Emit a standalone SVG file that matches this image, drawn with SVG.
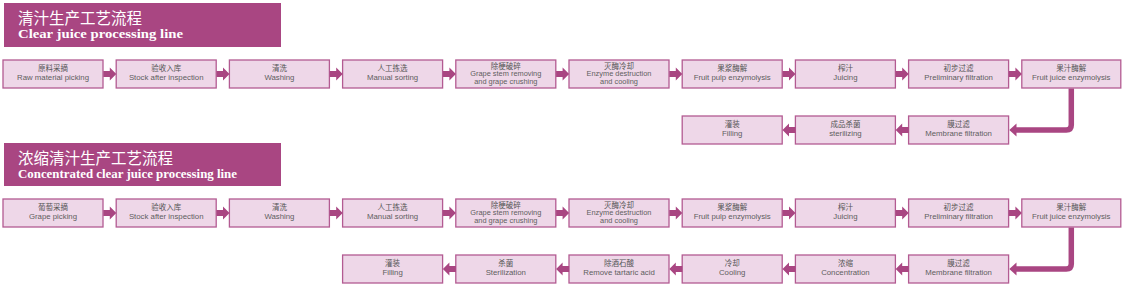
<svg xmlns="http://www.w3.org/2000/svg" xmlns:xlink="http://www.w3.org/1999/xlink" width="1124" height="302" viewBox="0 0 1124 302">
<style>
.bar{fill:#a94682}
.tcn{font-family:"Noto Sans CJK SC",sans-serif;font-size:15.5px;fill:#ffffff}
.ten{font-family:"Liberation Serif",serif;font-weight:bold;font-size:13.5px;fill:#ffffff}
.box{fill:#eed7e8;stroke:#b35b92;stroke-width:1.3}
.cn{font-family:"Liberation Sans","Noto Sans CJK SC",sans-serif;font-size:7.5px;fill:#555555;text-anchor:middle}
.en{font-family:"Liberation Sans",sans-serif;font-size:7.8px;fill:#5e5e5e;text-anchor:middle}
.en3{font-family:"Liberation Sans",sans-serif;font-size:7.4px;fill:#5e5e5e;text-anchor:middle}
.arr{fill:#a94682}
.bend{fill:none;stroke:#a94682;stroke-width:5.5}
</style>
<defs>
<path id="ar" d="M0,-3 H6.5 V-6.5 L13,0 L6.5,6.5 V3 H0 Z"/>
<path id="al" d="M13,-3 H6.5 V-6.5 L0,0 L6.5,6.5 V3 H13 Z"/>
</defs>
<rect width="1124" height="302" fill="#ffffff"/>

<g id="title1">
<rect class="bar" x="4" y="3" width="277" height="44"/>
<text class="tcn" x="18" y="23.5">清汁生产工艺流程</text>
<text class="ten" x="18" y="38" textLength="165" lengthAdjust="spacingAndGlyphs">Clear juice processing line</text>
</g>
<g id="title2">
<rect class="bar" x="4" y="143" width="277" height="43"/>
<text class="tcn" x="18" y="163.5">浓缩清汁生产工艺流程</text>
<text class="ten" x="18" y="177.5" textLength="219" lengthAdjust="spacingAndGlyphs">Concentrated clear juice processing line</text>
</g>

<!-- Section 1 row 1 -->
<g id="a1"><rect class="box" x="3" y="60" width="100" height="28"/><text class="cn" x="53" y="70.5">原料采摘</text><text class="en" x="53" y="80">Raw material picking</text></g>
<g id="a2"><rect class="box" x="116.2" y="60" width="100" height="28"/><text class="cn" x="166.2" y="70.5">验收入库</text><text class="en" x="166.2" y="80">Stock after inspection</text></g>
<g id="a3"><rect class="box" x="229.4" y="60" width="100" height="28"/><text class="cn" x="279.4" y="70.5">清洗</text><text class="en" x="279.4" y="80">Washing</text></g>
<g id="a4"><rect class="box" x="342.6" y="60" width="100" height="28"/><text class="cn" x="392.6" y="70.5">人工拣选</text><text class="en" x="392.6" y="80">Manual sorting</text></g>
<g id="a5"><rect class="box" x="455.8" y="60" width="100" height="28"/><text class="cn" x="505.8" y="68.8">除梗破碎</text><text class="en3" x="505.8" y="76.2">Grape stem removing</text><text class="en3" x="505.8" y="83.6">and grape crushing</text></g>
<g id="a6"><rect class="box" x="569" y="60" width="100" height="28"/><text class="cn" x="619" y="68.8">灭酶冷却</text><text class="en3" x="619" y="76.2">Enzyme destruction</text><text class="en3" x="619" y="83.6">and cooling</text></g>
<g id="a7"><rect class="box" x="682.2" y="60" width="100" height="28"/><text class="cn" x="732.2" y="70.5">果浆酶解</text><text class="en" x="732.2" y="80">Fruit pulp enzymolysis</text></g>
<g id="a8"><rect class="box" x="795.4" y="60" width="100" height="28"/><text class="cn" x="845.4" y="70.5">榨汁</text><text class="en" x="845.4" y="80">Juicing</text></g>
<g id="a9"><rect class="box" x="908.6" y="60" width="100" height="28"/><text class="cn" x="958.6" y="70.5">初步过滤</text><text class="en" x="958.6" y="80">Preliminary filtration</text></g>
<g id="a10"><rect class="box" x="1021.8" y="60" width="99" height="28"/><text class="cn" x="1071.3" y="70.5">果汁酶解</text><text class="en" x="1071.3" y="80">Fruit juice enzymolysis</text></g>
<!-- Section 1 row 2 -->
<g id="a11"><rect class="box" x="908.6" y="116" width="100" height="28"/><text class="cn" x="958.6" y="126.5">膜过滤</text><text class="en" x="958.6" y="136">Membrane filtration</text></g>
<g id="a12"><rect class="box" x="795.4" y="116" width="100" height="28"/><text class="cn" x="845.4" y="126.5">成品杀菌</text><text class="en" x="845.4" y="136">sterilizing</text></g>
<g id="a13"><rect class="box" x="682.2" y="116" width="100" height="28"/><text class="cn" x="732.2" y="126.5">灌装</text><text class="en" x="732.2" y="136">Filling</text></g>

<!-- Section 2 row 1 -->
<g id="b1"><rect class="box" x="3" y="199" width="100" height="28"/><text class="cn" x="53" y="209.5">葡萄采摘</text><text class="en" x="53" y="219">Grape picking</text></g>
<g id="b2"><rect class="box" x="116.2" y="199" width="100" height="28"/><text class="cn" x="166.2" y="209.5">验收入库</text><text class="en" x="166.2" y="219">Stock after inspection</text></g>
<g id="b3"><rect class="box" x="229.4" y="199" width="100" height="28"/><text class="cn" x="279.4" y="209.5">清洗</text><text class="en" x="279.4" y="219">Washing</text></g>
<g id="b4"><rect class="box" x="342.6" y="199" width="100" height="28"/><text class="cn" x="392.6" y="209.5">人工拣选</text><text class="en" x="392.6" y="219">Manual sorting</text></g>
<g id="b5"><rect class="box" x="455.8" y="199" width="100" height="28"/><text class="cn" x="505.8" y="207.8">除梗破碎</text><text class="en3" x="505.8" y="215.2">Grape stem removing</text><text class="en3" x="505.8" y="222.6">and grape crushing</text></g>
<g id="b6"><rect class="box" x="569" y="199" width="100" height="28"/><text class="cn" x="619" y="207.8">灭酶冷却</text><text class="en3" x="619" y="215.2">Enzyme destruction</text><text class="en3" x="619" y="222.6">and cooling</text></g>
<g id="b7"><rect class="box" x="682.2" y="199" width="100" height="28"/><text class="cn" x="732.2" y="209.5">果浆酶解</text><text class="en" x="732.2" y="219">Fruit pulp enzymolysis</text></g>
<g id="b8"><rect class="box" x="795.4" y="199" width="100" height="28"/><text class="cn" x="845.4" y="209.5">榨汁</text><text class="en" x="845.4" y="219">Juicing</text></g>
<g id="b9"><rect class="box" x="908.6" y="199" width="100" height="28"/><text class="cn" x="958.6" y="209.5">初步过滤</text><text class="en" x="958.6" y="219">Preliminary filtration</text></g>
<g id="b10"><rect class="box" x="1021.8" y="199" width="99" height="28"/><text class="cn" x="1071.3" y="209.5">果汁酶解</text><text class="en" x="1071.3" y="219">Fruit juice enzymolysis</text></g>
<!-- Section 2 row 2 -->
<g id="b11"><rect class="box" x="908.6" y="255" width="100" height="28"/><text class="cn" x="958.6" y="265.5">膜过滤</text><text class="en" x="958.6" y="275">Membrane filtration</text></g>
<g id="b12"><rect class="box" x="795.4" y="255" width="100" height="28"/><text class="cn" x="845.4" y="265.5">浓缩</text><text class="en" x="845.4" y="275">Concentration</text></g>
<g id="b13"><rect class="box" x="682.2" y="255" width="100" height="28"/><text class="cn" x="732.2" y="265.5">冷却</text><text class="en" x="732.2" y="275">Cooling</text></g>
<g id="b14"><rect class="box" x="569" y="255" width="100" height="28"/><text class="cn" x="619" y="265.5">除酒石酸</text><text class="en" x="619" y="275">Remove tartaric acid</text></g>
<g id="b15"><rect class="box" x="455.8" y="255" width="100" height="28"/><text class="cn" x="505.8" y="265.5">杀菌</text><text class="en" x="505.8" y="275">Sterilization</text></g>
<g id="b16"><rect class="box" x="342.6" y="255" width="100" height="28"/><text class="cn" x="392.6" y="265.5">灌装</text><text class="en" x="392.6" y="275">Filling</text></g>

<g id="connectors" class="arr">
<use xlink:href="#ar" x="103.3" y="74"/>
<use xlink:href="#ar" x="216.5" y="74"/>
<use xlink:href="#ar" x="329.7" y="74"/>
<use xlink:href="#ar" x="442.9" y="74"/>
<use xlink:href="#ar" x="556.1" y="74"/>
<use xlink:href="#ar" x="669.3" y="74"/>
<use xlink:href="#ar" x="782.5" y="74"/>
<use xlink:href="#ar" x="895.7" y="74"/>
<use xlink:href="#ar" x="1008.9" y="74"/>
<path class="bend" d="M1071.3,88.5 V125 Q1071.3,130 1066.3,130 H1015"/>
<path d="M1009.3,130 L1016.5,123.5 V136.5 Z"/>
<use xlink:href="#al" x="895.7" y="130"/>
<use xlink:href="#al" x="782.5" y="130"/>
<use xlink:href="#ar" x="103.3" y="213"/>
<use xlink:href="#ar" x="216.5" y="213"/>
<use xlink:href="#ar" x="329.7" y="213"/>
<use xlink:href="#ar" x="442.9" y="213"/>
<use xlink:href="#ar" x="556.1" y="213"/>
<use xlink:href="#ar" x="669.3" y="213"/>
<use xlink:href="#ar" x="782.5" y="213"/>
<use xlink:href="#ar" x="895.7" y="213"/>
<use xlink:href="#ar" x="1008.9" y="213"/>
<path class="bend" d="M1071.3,227.5 V264 Q1071.3,269 1066.3,269 H1015"/>
<path d="M1009.3,269 L1016.5,262.5 V275.5 Z"/>
<use xlink:href="#al" x="895.7" y="269"/>
<use xlink:href="#al" x="782.5" y="269"/>
<use xlink:href="#al" x="669.3" y="269"/>
<use xlink:href="#al" x="556.1" y="269"/>
<use xlink:href="#al" x="442.9" y="269"/>
</g>
</svg>
